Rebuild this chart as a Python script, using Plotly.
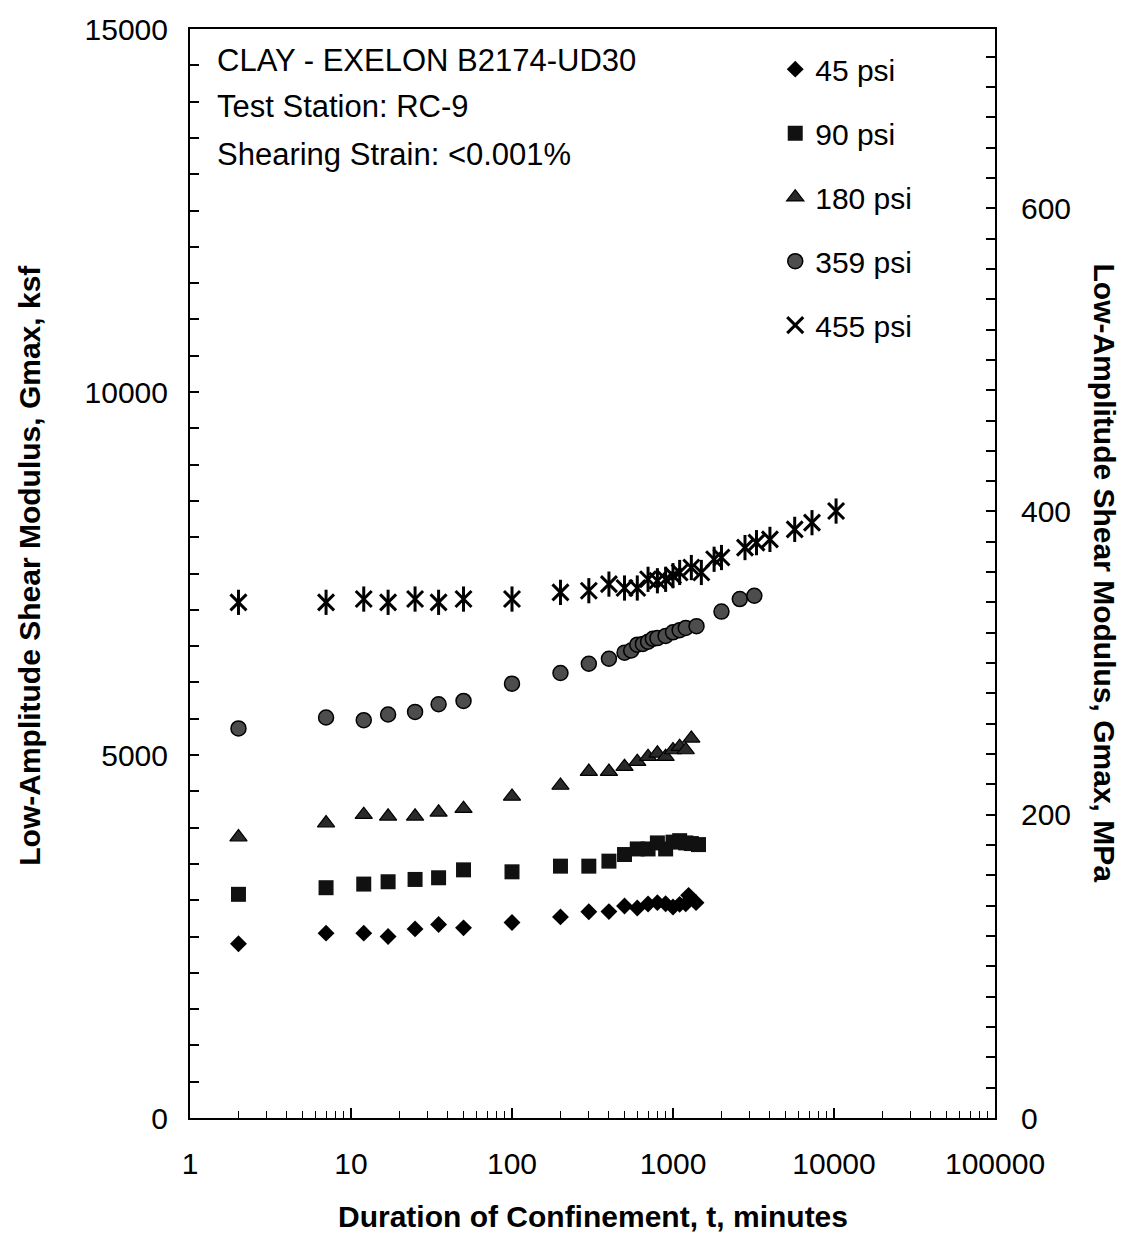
import plotly.graph_objects as go

# ---- data ----
t_45 = [2, 7, 12, 17, 25, 35, 50, 100, 200, 300, 400, 500, 600, 700, 800, 900, 1000, 1100, 1200, 1250, 1390]
g_45 = [2400, 2546, 2546, 2500, 2605, 2665, 2619, 2692, 2770, 2840, 2843, 2920, 2893, 2948, 2966, 2952, 2907, 2943, 2952, 3067, 2966]

t_90 = [2, 7, 12, 17, 25, 35, 50, 100, 200, 300, 400, 500, 600, 700, 800, 900, 1000, 1100, 1200, 1300, 1440]
g_90 = [3081, 3172, 3222, 3254, 3286, 3309, 3418, 3391, 3469, 3469, 3538, 3629, 3706, 3706, 3789, 3706, 3800, 3820, 3789, 3780, 3766]

t_180 = [2, 7, 12, 17, 25, 35, 50, 100, 200, 300, 400, 500, 600, 700, 800, 900, 1000, 1100, 1200, 1300]
g_180 = [3870, 4063, 4178, 4155, 4155, 4210, 4260, 4429, 4580, 4772, 4772, 4840, 4909, 4977, 5023, 4977, 5069, 5115, 5069, 5229]

t_359 = [2, 7, 12, 17, 25, 35, 50, 100, 200, 300, 400, 500, 550, 600, 650, 700, 750, 800, 900, 1000, 1100, 1200, 1400, 2000, 2600, 3200]
g_359 = [5366, 5516, 5480, 5558, 5594, 5699, 5745, 5983, 6129, 6257, 6326, 6410, 6440, 6520, 6530, 6560, 6600, 6610, 6640, 6690, 6720, 6750, 6775, 6975, 7148, 7193]

t_455 = [2, 7, 12, 17, 25, 35, 50, 100, 200, 300, 400, 500, 600, 700, 800, 900, 1000, 1100, 1300, 1500, 1800, 2000, 2800, 3300, 4000, 5700, 7300, 10300]
g_455 = [7103, 7103, 7148, 7103, 7148, 7103, 7148, 7148, 7240, 7263, 7354, 7300, 7300, 7420, 7400, 7420, 7470, 7514, 7582, 7514, 7696, 7720, 7857, 7925, 7970, 8108, 8200, 8360]

KSF_TO_MPA = 0.04788
Y_MAX_KSF = 15000

x_tickvals = [1, 10, 100, 1000, 10000, 100000]
x_ticktext = ["1", "10", "100", "1000", "10000", "100000"]

info_lines = ["CLAY - EXELON B2174-UD30", "Test Station: RC-9", "Shearing Strain: <0.001%"]

FONT = "Arial, Liberation Sans, Helvetica, sans-serif"

fig = go.Figure()

fig.add_trace(go.Scatter(x=t_45, y=g_45, mode="markers", name="45 psi", legendgroup="a",
                         marker=dict(symbol="diamond", size=13, color="black")))
fig.add_trace(go.Scatter(x=t_90, y=g_90, mode="markers", name="90 psi", legendgroup="b",
                         marker=dict(symbol="square", size=15, color="#111111")))
fig.add_trace(go.Scatter(x=t_180, y=g_180, mode="markers", name="180 psi", legendgroup="c",
                         marker=dict(symbol="triangle-up", size=15, color="#2a2a2a",
                                     line=dict(color="black", width=1.2))))
fig.add_trace(go.Scatter(x=t_359, y=g_359, mode="markers", name="359 psi", legendgroup="d",
                         marker=dict(symbol="circle", size=15, color="#4d4d4d",
                                     line=dict(color="black", width=1.5))))
fig.add_trace(go.Scatter(x=t_455, y=g_455, mode="markers", name="455 psi", legendgroup="e",
                         marker=dict(symbol="x-thin-open", size=16, color="black",
                                     line=dict(color="black", width=3))))
fig.add_trace(go.Scatter(x=t_455, y=g_455, mode="markers", name="455 psi", legendgroup="e",
                         showlegend=False,
                         marker=dict(symbol="line-ns-open", size=18, color="black",
                                     line=dict(color="black", width=3))))
# invisible trace so the MPa axis is drawn
fig.add_trace(go.Scatter(x=[t_45[0]], y=[g_45[0] * KSF_TO_MPA], yaxis="y2", mode="markers",
                         marker=dict(opacity=0), showlegend=False, hoverinfo="skip"))

for txt, yp in zip(info_lines, [0.971, 0.929, 0.885]):
    fig.add_annotation(text=txt, xref="paper", yref="paper", x=0.031, y=yp,
                       xanchor="left", yanchor="middle", showarrow=False,
                       font=dict(size=31, color="black", family=FONT))

fig.add_annotation(text="<b>Duration of Confinement, t, minutes</b>", xref="paper", yref="paper",
                   x=0.5, y=-0.0905, xanchor="center", yanchor="middle", showarrow=False,
                   font=dict(size=30, color="black", family=FONT))
fig.add_annotation(text="<b>Low-Amplitude Shear Modulus, Gmax, ksf</b>", xref="paper", yref="paper",
                   x=-0.1988, y=0.508, xanchor="center", yanchor="middle", showarrow=False,
                   textangle=-90, font=dict(size=30, color="black", family=FONT))
fig.add_annotation(text="<b>Low-Amplitude Shear Modulus, Gmax, MPa</b>", xref="paper", yref="paper",
                   x=1.1366, y=0.5, xanchor="center", yanchor="middle", showarrow=False,
                   textangle=90, font=dict(size=30, color="black", family=FONT))

fig.update_layout(
    width=1133, height=1236,
    margin=dict(l=190, r=138, t=24, b=118),
    paper_bgcolor="white", plot_bgcolor="white",
    font=dict(family=FONT, size=30, color="black"),
    showlegend=True,
    legend=dict(x=0.727, y=0.987, xanchor="left", yanchor="top",
                bgcolor="rgba(0,0,0,0)", font=dict(size=30, family=FONT),
                tracegroupgap=22, traceorder="grouped"),
    xaxis=dict(type="log", range=[0, 5], tickmode="array",
               tickvals=x_tickvals, ticktext=x_ticktext,
               showgrid=False, zeroline=False,
               showline=True, linecolor="black", linewidth=2, mirror=True,
               ticks="inside", ticklen=10, tickwidth=1.5, tickcolor="black",
               ticklabelstandoff=18,
               tickfont=dict(size=30, family=FONT),
               minor=dict(ticks="inside", ticklen=7, tickwidth=1.2, tickcolor="black",
                          dtick="D1", showgrid=False)),
    yaxis=dict(range=[0, Y_MAX_KSF], tickmode="linear", tick0=0, dtick=5000,
               tickformat="d",
               showgrid=False, zeroline=False,
               showline=True, linecolor="black", linewidth=2,
               ticks="inside", ticklen=9, tickwidth=1.5, tickcolor="black",
               ticklabelstandoff=14,
               tickfont=dict(size=30, family=FONT),
               minor=dict(ticks="inside", ticklen=9, tickwidth=1.5, tickcolor="black",
                          dtick=500, showgrid=False)),
    yaxis2=dict(overlaying="y", side="right", range=[0, Y_MAX_KSF * KSF_TO_MPA],
                tickmode="linear", tick0=0, dtick=200, tickformat="d",
                showgrid=False, zeroline=False,
                showline=True, linecolor="black", linewidth=2,
                ticks="inside", ticklen=9, tickwidth=1.5, tickcolor="black",
                ticklabelstandoff=18,
                tickfont=dict(size=30, family=FONT),
                minor=dict(ticks="inside", ticklen=9, tickwidth=1.5, tickcolor="black",
                           dtick=20, showgrid=False)),
)

fig.write_html("out.html")
